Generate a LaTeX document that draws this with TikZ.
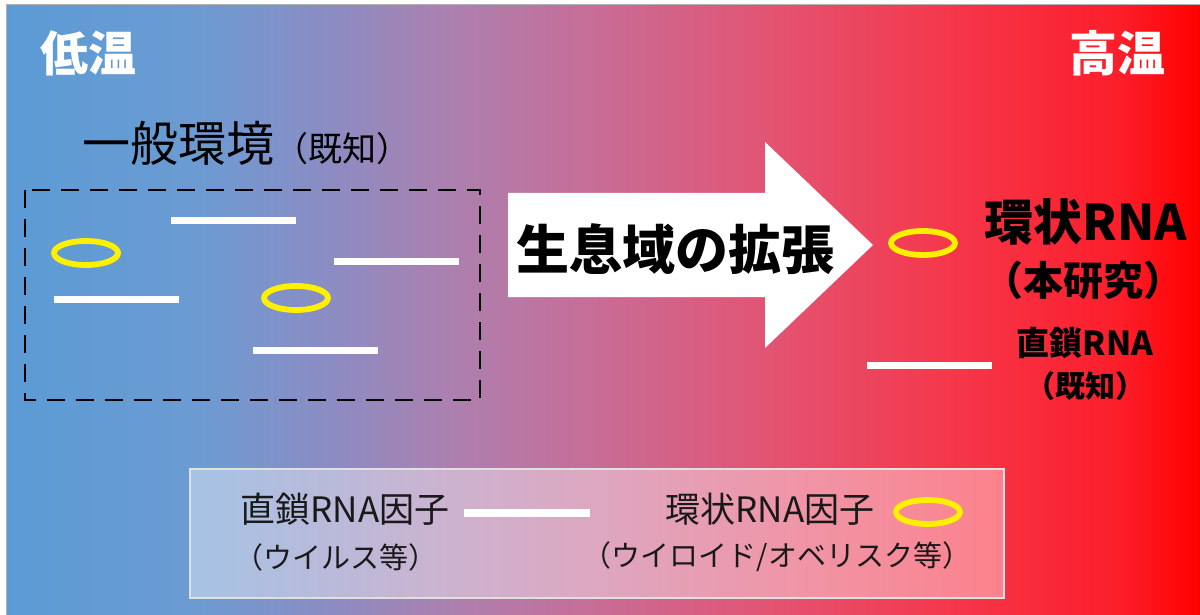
\documentclass[tikz,border=0pt]{standalone}
\usepackage{fontspec}
\setmainfont{Noto Sans CJK JP}
\usetikzlibrary{shapes.geometric}
\definecolor{g0}{RGB}{91,155,213}
\definecolor{g1}{RGB}{108,155,210}
\definecolor{g2}{RGB}{140,140,195}
\definecolor{g3}{RGB}{172,128,175}
\definecolor{g4}{RGB}{200,108,150}
\definecolor{g5}{RGB}{228,82,112}
\definecolor{g6}{RGB}{245,55,75}
\definecolor{g7}{RGB}{252,30,42}
\definecolor{g8}{RGB}{255,0,0}
\definecolor{ring}{RGB}{255,240,0}
\definecolor{txt}{RGB}{25,25,25}
\newcommand{\fs}[1]{\fontsize{#1}{#1}\selectfont}
\begin{document}
\begin{tikzpicture}[x=0.5pt,y=-0.5pt,
  wline/.style={white, line width=3.5pt},
  ringnode/.style={ellipse, draw=ring, line width=2.9pt, minimum width=32pt, minimum height=12pt, inner sep=0pt},
  lbl/.style={inner sep=0pt, text=txt},
]
\useasboundingbox (0,0) rectangle (1200,615);
\fill[white] (0,0) rectangle (1200,615);
% background gradient
\shade[left color=g0,right color=g1] (7,5) rectangle (200.5,615);
\shade[left color=g1,right color=g2] (200,5) rectangle (330.5,615);
\shade[left color=g2,right color=g3] (330,5) rectangle (450.5,615);
\shade[left color=g3,right color=g4] (450,5) rectangle (600.5,615);
\shade[left color=g4,right color=g5] (600,5) rectangle (780.5,615);
\shade[left color=g5,right color=g6] (780,5) rectangle (950.5,615);
\shade[left color=g6,right color=g7] (950,5) rectangle (1120.5,615);
\shade[left color=g7,right color=g8] (1120,5) rectangle (1200,615);
\draw[black!30, line width=0.6pt] (6.5,615) -- (6.5,4.5) -- (1200,4.5);

% corner labels
\node[inner sep=0pt, text=white, font=\fs{24}\bfseries] (low) at (88,53) {低温};
\node[inner sep=0pt, text=white, font=\fs{24}\bfseries] (high) at (1117,53) {高温};

% general environment
\node[lbl, anchor=base west, text=black, font=\fs{24}] (gen) at (82,162) {一般環境{\fs{17}（既知）}};
\draw[black, line width=1.3pt, dash pattern=on 9pt off 5.5pt] (25,190) rectangle (480,400);
\draw[wline] (171,220) -- (296,220);
\draw[wline] (334,261) -- (459,261);
\draw[wline] (54,299) -- (179,299);
\draw[wline] (253,350) -- (378,350);
\node[ringnode] (r1) at (86,253) {};
\node[ringnode] (r2) at (296,298) {};

% big arrow
\fill[white] (508,193) -- (765,193) -- (765,142) -- (873,245) -- (765,348) -- (765,297) -- (508,297) -- cycle;
\node[inner sep=0pt, text=black, font=\fs{26.5}\bfseries] (exp) at (675,249) {生息域の拡張};

% right side
\node[ringnode] (r3) at (923,243) {};
\node[inner sep=0pt, text=black, font=\fs{24.5}\bfseries] (circ) at (1086,222) {環状RNA};
\node[inner sep=0pt, text=black, font=\fs{20}\bfseries] (study) at (1083,280) {（本研究）};
\draw[wline] (867,365) -- (992,365);
\node[inner sep=0pt, text=black, font=\fs{16.5}\bfseries] (lin) at (1085,343) {直鎖RNA};
\node[inner sep=0pt, text=black, font=\fs{15}\bfseries] (known) at (1085,386) {（既知）};

% legend
\draw[draw=black!12, line width=1.1pt, fill=white, fill opacity=0.4] (190,469) rectangle (1004,598);
\node[lbl, font=\fs{17.5}] (l1) at (345,509) {直鎖RNA因子};
\draw[white, line width=4pt] (464,513) -- (590,513);
\node[lbl, font=\fs{14.5}] (l1b) at (336,557) {（ウイルス等）};
\node[lbl, font=\fs{17.5}] (l2) at (770,509) {環状RNA因子};
\node[ringnode] (r4) at (928,512) {};
\node[lbl, font=\fs{14.5}] (l2b) at (777,557) {（ウイロイド/オベリスク等）};
\end{tikzpicture}
\end{document}
